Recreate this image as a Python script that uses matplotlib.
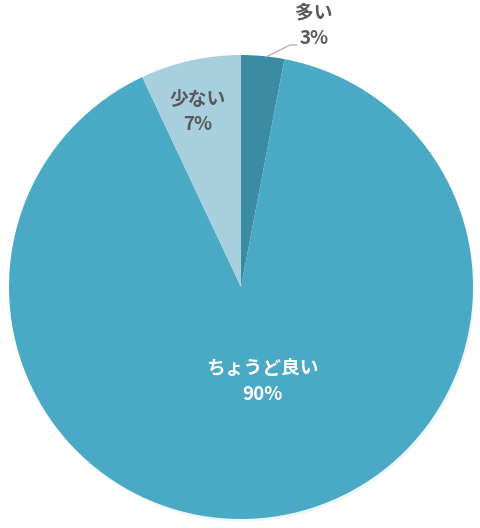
import matplotlib.pyplot as plt

plt.rcParams['font.family'] = ['Noto Sans CJK JP', 'DejaVu Sans']

labels = ['多い', 'ちょうど良い', '少ない']
values = [3, 90, 7]
colors = ['#3b8ba3', '#4aaac5', '#a7cfdd']

W, H = 480, 528
cx, cy, r = 241, 287, 232

fig = plt.figure(figsize=(W / 100, H / 100), dpi=100)
ax = fig.add_axes([0, 0, 1, 1])
ax.pie(values, colors=colors, startangle=90, counterclock=False, radius=1,
       wedgeprops={'linewidth': 0},
       shadow={'ox': 0.005, 'oy': -0.008, 'shade': 0.0, 'alpha': 0.1})
ax.set_xlim(-cx / r, (W - cx) / r)
ax.set_ylim(-(H - cy) / r, cy / r)
ax.set_aspect('equal')
ax.axis('off')


def px(x, y):
    return (x - cx) / r, (cy - y) / r


grey = '#595959'
fs = 13.5
# 多い (outside, with leader line)
ax.plot(*zip(px(266, 57), px(290, 45), px(297, 45)), color='#b0b0b0', lw=0.9)
ax.text(*px(314, 13), labels[0], ha='center', va='center', fontsize=fs,
        color=grey, fontweight='bold')
ax.text(*px(314, 39), f'{values[0]}%', ha='center', va='center', fontsize=fs,
        color=grey, fontweight='bold')
# 少ない
ax.text(*px(198, 100), labels[2], ha='center', va='center', fontsize=fs,
        color=grey, fontweight='bold')
ax.text(*px(198, 125), f'{values[2]}%', ha='center', va='center', fontsize=fs,
        color=grey, fontweight='bold')
# ちょうど良い
ax.text(*px(262, 369), labels[1], ha='center', va='center', fontsize=fs,
        color='white', fontweight='bold')
ax.text(*px(262, 394), f'{values[1]}%', ha='center', va='center', fontsize=fs,
        color='white', fontweight='bold')

fig.savefig('out.png', dpi=100)
